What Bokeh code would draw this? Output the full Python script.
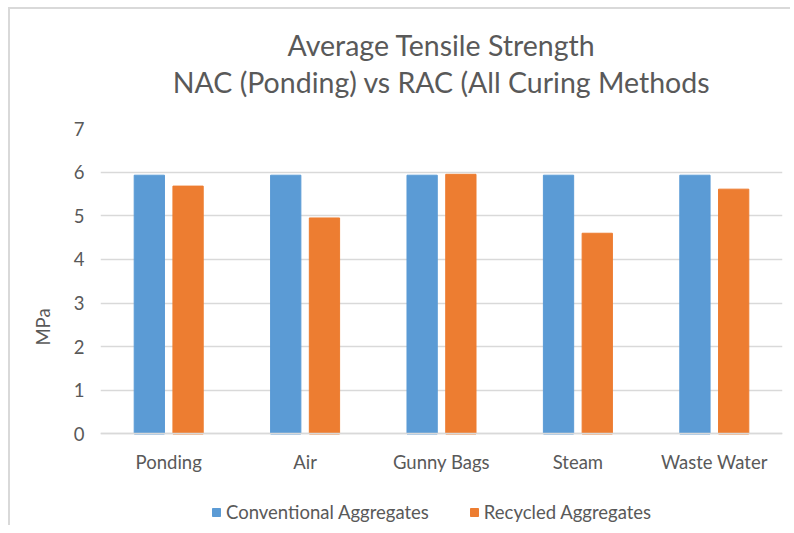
from bokeh.plotting import figure
from bokeh.models import FactorRange, ColumnDataSource, Title, Legend, LegendItem, FixedTicker
from bokeh.transform import dodge
from bokeh.embed import file_html
from bokeh.resources import INLINE

categories = ["Ponding", "Air", "Gunny Bags", "Steam", "Waste Water"]
conventional = [5.93, 5.93, 5.93, 5.93, 5.93]
recycled = [5.68, 4.95, 5.95, 4.60, 5.61]
series_names = ["Conventional Aggregates", "Recycled Aggregates"]
y_ticks = [0, 1, 2, 3, 4, 5, 6, 7]

FONT = "Lato"
TXT = "#595959"
GRID = "#d9d9d9"

src = ColumnDataSource(dict(cat=categories, conv=conventional, rec=recycled))

# frame extends below zero so that the legend can sit inside it (under the x axis)
p = figure(
    x_range=FactorRange(factors=categories, range_padding=0),
    y_range=(-2.097, 7),
    frame_width=682, frame_height=397,
    output_backend="svg", toolbar_location=None,
    min_border_left=90, min_border_right=8, min_border_top=119, min_border_bottom=0,
)
p.styles = {"margin-left": "8px", "margin-top": "7px",
            "border-left": "2px solid #d9d9d9", "border-top": "2px solid #d9d9d9"}
p.border_fill_color = "white"
p.background_fill_color = "white"

r1 = p.vbar(x=dodge("cat", -0.142, range=p.x_range), top="conv", width=0.222,
            source=src, color="#5B9BD5")
r2 = p.vbar(x=dodge("cat", 0.142, range=p.x_range), top="rec", width=0.222,
            source=src, color="#ED7D31")

p.outline_line_color = None
p.xgrid.grid_line_color = None
p.ygrid.grid_line_color = GRID
p.ygrid.grid_line_width = 1.5
p.yaxis.ticker = FixedTicker(ticks=y_ticks)

for ax in (p.xaxis, p.yaxis):
    ax.major_tick_line_color = None
    ax.minor_tick_line_color = None
    ax.major_label_text_font = FONT
    ax.major_label_text_font_size = "18.5px"
    ax.major_label_text_color = TXT
p.yaxis.axis_line_color = None
p.yaxis.major_label_standoff = 10
p.yaxis.axis_label = "MPa"
p.yaxis.axis_label_text_font = FONT
p.yaxis.axis_label_text_font_size = "18.5px"
p.yaxis.axis_label_text_font_style = "normal"
p.yaxis.axis_label_text_color = TXT
p.yaxis.axis_label_standoff = 17
p.xaxis.axis_line_color = GRID
p.xaxis.axis_line_width = 1.5
p.xaxis.major_label_standoff = 11
p.xaxis.fixed_location = 0

spacer = Title(text=" ", align="center", text_font_size="24px", standoff=0)
t2 = Title(text="NAC (Ponding) vs RAC (All Curing Methods", align="center",
           text_font=FONT, text_font_size="28.5px", text_font_style="normal",
           text_color=TXT, standoff=1)
t1 = Title(text="Average Tensile Strength", align="center",
           text_font=FONT, text_font_size="28.5px", text_font_style="normal",
           text_color=TXT, standoff=2)
p.add_layout(spacer, "above")
p.add_layout(t2, "above")
p.add_layout(t1, "above")

legend = Legend(items=[LegendItem(label=series_names[0], renderers=[r1]),
                       LegendItem(label=series_names[1], renderers=[r2])],
                orientation="horizontal", location=(111, 2),
                label_text_font=FONT, label_text_font_size="18.5px", label_text_color=TXT,
                glyph_width=10, glyph_height=10, spacing=40, label_standoff=5,
                border_line_color=None, background_fill_alpha=0, margin=0, padding=2)
p.add_layout(legend, "center")

open("out.html", "w").write(file_html(p, INLINE))
